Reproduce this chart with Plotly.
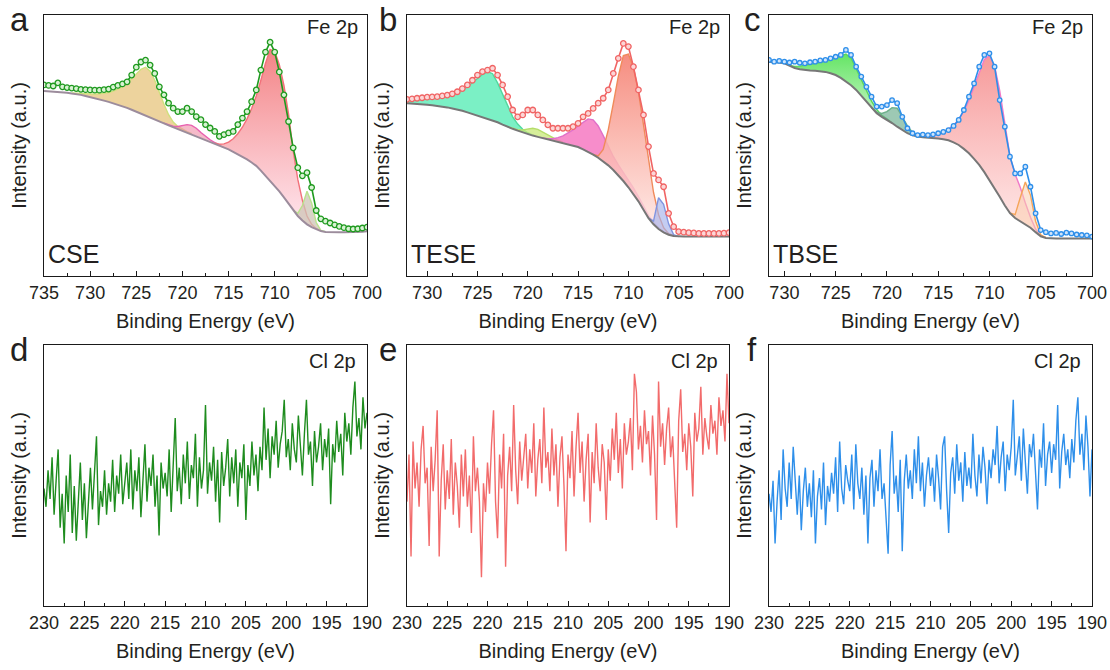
import numpy as np
import plotly.graph_objects as go

W, H = 1110, 670
FONT = "Liberation Sans, Arial, sans-serif"
TXT = "#231f20"

# ---------------- Fe 2p : panel a (CSE), 0.5 eV grid 735 -> 700 ----------------
a_start, a_end = 735.0, 700.0
a_data = [73.2, 73.0, 72.8, 74.0, 72.5, 72.2, 72.0, 71.8, 71.5, 71.4,
          71.3, 71.2, 71.2, 71.4, 71.6, 72.4, 73.0, 73.6, 74.4, 77.0,
          80.0, 82.0, 82.7, 80.8, 77.6, 72.5, 69.4, 66.2, 64.3, 63.0,
          63.0, 64.3, 63.0, 61.1, 59.9, 58.0, 56.7, 55.4, 53.5, 54.2,
          54.8, 55.4, 58.0, 60.5, 63.0, 66.8, 71.3, 78.9, 85.8, 89.6,
          85.8, 78.2, 69.4, 59.2, 49.1, 41.5, 38.4, 39.6, 33.9, 25.1,
          21.9, 21.0, 20.3, 19.6, 19.0, 18.5, 18.1, 18.0, 18.1, 18.4,
          18.7]
a_bg = [70.9, 70.8, 70.7, 70.5, 70.4, 70.2, 69.9, 69.7, 69.4, 69.0,
        68.6, 68.2, 67.7, 67.2, 66.7, 66.2, 65.6, 65.0, 64.4, 63.7,
        63.0, 62.3, 61.5, 60.7, 59.9, 59.2, 58.5, 57.7, 57.0, 56.3,
        55.7, 55.0, 54.4, 53.7, 53.0, 52.3, 51.6, 50.9, 50.1, 49.3,
        48.5, 47.6, 46.7, 45.7, 44.7, 43.5, 42.2, 40.4, 38.4, 36.5,
        34.6, 32.4, 30.1, 27.6, 25.1, 23.0, 21.3, 19.8, 18.7, 17.8,
        17.2, 16.9, 16.8, 16.8, 16.8, 16.8, 16.8, 16.9, 16.9, 17.0,
        17.1]
# fitted components: (start energy, upper envelope values every 0.5 eV)
a_c1 = (732.0, [70.1, 70.0, 69.9, 69.8, 69.7, 69.7, 69.8, 70.0, 70.3, 70.8, 71.5, 72.5, 73.8,
                75.5, 77.3, 79.2, 80.0, 78.5, 75.0, 70.3, 65.8, 61.8, 59.0, 57.3, 56.2, 55.3, 54.5])
a_c2 = (722.0, [58.6, 57.9, 57.4, 57.3, 57.6, 58.0, 57.7, 56.6, 55.0, 53.5, 52.2, 51.1, 50.2, 49.3])
a_c3 = (716.5, [51.0, 50.5, 50.6, 51.3, 52.6, 54.5, 57.0, 60.2, 64.2, 69.0, 75.0, 81.5, 86.8,
                86.0, 81.0, 73.0, 62.0, 48.0, 37.0, 29.0, 23.0, 19.8, 18.2, 17.4])
a_c4 = (708.0, [25.3, 24.0, 27.0, 32.5, 28.0, 20.5, 17.5, 17.0])

# ---------------- Fe 2p : panel b (TESE), 0.5 eV grid 732 -> 700 ----------------
b_start, b_end = 732.0, 700.0
b_data = [67.7, 67.9, 68.1, 68.3, 68.5, 68.6, 68.7, 69.0, 69.3, 69.8,
          70.6, 71.8, 73.2, 75.0, 77.0, 78.3, 78.9, 79.6, 77.0, 73.2,
          68.7, 63.6, 61.0, 61.7, 63.6, 63.6, 61.7, 59.8, 57.9, 56.6,
          56.6, 56.6, 56.6, 57.2, 58.5, 61.0, 62.3, 64.2, 66.2, 68.1,
          71.3, 77.6, 83.4, 89.1, 87.9, 80.2, 71.3, 61.7, 49.6, 39.3,
          36.8, 34.2, 24.0, 18.9, 17.0, 16.8, 16.6, 16.5, 16.3, 16.3,
          16.3, 16.3, 16.3, 16.4, 16.6]
b_bg = [66.2, 66.1, 66.0, 65.8, 65.6, 65.4, 65.2, 64.9, 64.6, 64.2,
        63.8, 63.3, 62.7, 62.1, 61.6, 61.0, 60.3, 59.6, 58.9, 58.0,
        57.1, 56.4, 55.7, 55.0, 54.4, 53.8, 53.3, 52.8, 52.4, 52.0,
        51.6, 51.1, 50.6, 50.0, 49.4, 48.5, 47.6, 46.5, 45.3, 43.9,
        42.4, 40.6, 38.6, 36.4, 34.0, 31.4, 28.6, 25.4, 22.2, 19.8,
        18.0, 16.7, 15.8, 15.3, 15.1, 15.1, 15.1, 15.1, 15.1, 15.1,
        15.1, 15.1, 15.1, 15.1, 15.1]
b_c1 = (732.0, [67.2, 67.3, 67.4, 67.6, 67.8, 68.0, 68.3, 68.6, 69.0, 69.6, 70.3, 71.3, 72.5,
                74.0, 75.6, 77.2, 78.3, 77.5, 74.0, 69.5, 65.0, 61.0, 58.2, 56.2, 54.9, 54.0])
b_c2 = (722.0, [57.2, 56.6, 56.1, 56.0, 56.4, 56.6, 56.2, 55.2, 54.0, 52.9, 52.0, 51.3])
b_c3 = (718.5, [52.9, 52.6, 52.6, 53.0, 53.7, 54.7, 56.0, 57.5, 59.0, 60.2, 59.8, 57.5, 53.8,
                49.6, 45.8, 42.6, 39.8, 37.0, 33.8, 30.4, 26.8, 23.3, 20.6, 18.6, 17.1, 16.1, 15.4])
b_c4 = (713.5, [46.6, 46.0, 48.5, 56.0, 66.0, 76.5, 84.5, 85.0, 80.0, 70.5, 58.0, 44.5, 32.0,
                23.5, 18.5, 16.2, 15.4])
b_c5 = (708.0, [22.3, 21.0, 30.0, 27.5, 20.0, 15.8, 15.1])

# ---------------- Fe 2p : panel c (TBSE), 0.5 eV grid 731.5 -> 700 ----------------
c_start, c_end = 731.5, 700.0
c_data = [82.8, 82.1, 82.4, 82.1, 81.8, 82.1, 81.7, 81.5, 81.9, 82.1,
          82.6, 82.8, 83.4, 84.0, 84.7, 86.6, 84.7, 80.2, 76.4, 72.5,
          68.7, 64.9, 64.9, 65.5, 67.4, 66.2, 61.0, 56.6, 54.7, 54.0,
          54.2, 54.0, 54.3, 54.7, 55.2, 55.9, 57.5, 59.8, 63.6, 68.7,
          73.8, 80.2, 84.7, 85.3, 80.2, 67.4, 57.2, 45.7, 39.3, 39.3,
          41.9, 34.2, 24.0, 17.6, 16.8, 16.3, 16.5, 16.1, 16.6, 16.3,
          15.9, 15.7, 15.6, 15.1]
c_bg = [82.1, 82.0, 81.8, 81.5, 80.6, 79.7, 79.2, 78.9, 78.7, 78.6,
        78.4, 78.2, 77.7, 77.0, 75.9, 74.6, 73.1, 71.3, 69.1, 66.8,
        64.4, 62.4, 61.0, 59.9, 58.6, 57.2, 55.9, 54.7, 53.9, 53.4,
        53.2, 53.1, 52.9, 52.7, 52.4, 52.0, 51.2, 50.2, 48.7, 47.0,
        44.9, 42.6, 39.8, 36.8, 33.6, 30.4, 27.0, 24.1, 22.2, 20.9,
        19.8, 18.5, 16.8, 15.2, 14.6, 14.4, 14.4, 14.4, 14.4, 14.4,
        14.4, 14.4, 14.4, 14.4]
c_c1 = (729.5, [80.7, 80.3, 80.4, 80.7, 81.0, 81.4, 81.9, 82.4, 83.0, 83.7, 84.5, 85.0, 83.5,
                79.5, 75.0, 71.0, 67.0, 63.8, 61.6, 60.2, 58.7])
c_c2 = (721.5, [64.5, 62.8, 62.3, 63.0, 64.5, 64.3, 61.0, 57.5, 55.0, 53.8, 53.3])
c_c3 = (716.5, [53.3, 53.4, 53.8, 54.4, 55.2, 56.3, 57.8, 60.0, 63.2, 67.3, 72.5, 78.2, 83.0,
                84.5, 80.5, 71.0, 58.5, 46.0, 39.0, 34.0, 28.0, 22.5, 18.0, 15.5, 14.7])
c_c4 = (708.0, [24.2, 23.5, 30.0, 36.0, 31.0, 21.0, 15.8, 14.7])

# ---------------- Cl 2p : panels d, e, f, 0.25 eV grid 230 -> 190 ----------------
cl_start, cl_end = 230.0, 190.0
d_data = [45, 38, 52, 41, 57, 35, 48, 60, 30, 43,
          24, 50, 36, 58, 28, 46, 25, 39, 55, 33,
          47, 26, 42, 53, 37, 49, 65, 31, 44, 38,
          52, 35, 47, 40, 56, 36, 50, 43, 58, 39,
          48, 55, 41, 60, 37, 52, 44, 57, 34, 49,
          62, 40, 53, 46, 58, 38, 50, 27, 55, 45,
          51, 42, 60, 36, 56, 72, 44, 53, 39, 58,
          47, 63, 41, 54, 49, 66, 38, 57, 45, 52,
          77, 43, 55, 48, 61, 40, 56, 32, 59, 46,
          53, 64, 42, 57, 47, 60, 38, 55, 49, 62,
          33, 54, 46, 63, 50, 58, 44, 61, 52, 76,
          56, 68, 49, 65, 58, 71, 53, 62, 67, 79,
          57, 64, 52, 70, 60, 55, 73, 62, 50, 66,
          79, 58, 63, 46, 67, 55, 61, 70, 52, 64,
          57, 68, 39, 62, 55, 71, 59, 66, 50, 74,
          63, 70, 58, 76, 86, 65, 72, 60, 80, 68,
          74]
e_data = [40, 58, 19, 63, 45, 55, 38, 60, 69, 47,
          53, 23, 61, 44, 56, 75, 19, 48, 62, 37,
          52, 41, 64, 35, 55, 46, 30, 58, 42, 60,
          38, 50, 28, 65, 44, 53, 40, 11, 47, 36,
          55, 43, 62, 75, 40, 26, 58, 45, 66, 15,
          50, 61, 44, 77, 52, 39, 63, 48, 57, 66,
          45, 60, 51, 70, 42, 56, 64, 47, 76, 53,
          59, 44, 68, 50, 62, 38, 57, 65, 46, 21,
          58, 49, 67, 42, 61, 74, 51, 63, 40, 56,
          66, 32, 59, 47, 70, 53, 44, 62, 55, 33,
          60, 48, 68, 56, 74, 51, 64, 45, 70, 58,
          63, 72, 52, 89, 82, 60, 69, 55, 75, 62,
          67, 50, 73, 58, 33, 86, 61, 70, 54, 68,
          76, 57, 65, 49, 30, 71, 83, 59, 66, 52,
          70, 61, 42, 74, 63, 68, 84, 58, 72, 65,
          60, 77, 66, 71, 58, 80, 69, 75, 63, 89,
          70]
f_data = [43, 36, 48, 24, 40, 52, 33, 60, 45, 38,
          55, 41, 61, 46, 35, 50, 29, 44, 53, 38,
          47, 34, 52, 24, 42, 49, 37, 55, 31, 46,
          40, 51, 43, 57, 36, 63, 45, 39, 54, 48,
          44, 58, 37, 62, 47, 41, 53, 35, 50, 24,
          49, 56, 38, 52, 44, 60, 41, 47, 32, 20,
          54, 67, 43, 50, 36, 56, 21, 48, 58, 45,
          52, 41, 60, 47, 65, 44, 55, 38, 50, 57,
          46, 53, 40, 58, 49, 37, 61, 65, 44, 28,
          51, 57, 43, 62, 48, 55, 40, 59, 46, 53,
          45, 66, 50, 42, 58, 47, 61, 53, 39, 56,
          49, 60, 54, 69, 47, 57, 63, 44, 58, 52,
          61, 79, 50, 57, 65, 48, 68, 55, 43, 62,
          57, 66, 49, 37, 60, 53, 70, 46, 58, 63,
          51, 62, 56, 77, 45, 59, 66, 54, 60, 49,
          64, 55, 71, 80, 58, 66, 52, 73, 61, 42,
          60]

panel_letters = ["a", "b", "c", "d", "e", "f"]
samples = ["CSE", "TESE", "TBSE"]
x_title = "Binding Energy (eV)"
y_title = "Intensity (a.u.)"


def grid(start, end, step):
    n = int(round((start - end) / step)) + 1
    return np.round(np.linspace(start, end, n), 2)


fig = go.Figure()


def add_panel_fe(k, start, end, data, bg, comps, dcolor, mfill, bgcolor, msize):
    xa, ya = f"x{k}", f"y{k}"
    g = grid(start, end, 0.5)
    assert len(g) == len(data) == len(bg), (k, len(g), len(data), len(bg))
    bgmap = dict(zip(g.tolist(), bg))
    for (cstart, vals), style in comps:
        cx = grid(cstart, cstart - 0.5 * (len(vals) - 1), 0.5).tolist()
        base = [bgmap[x] for x in cx]
        px = cx + cx[::-1]
        py = list(vals) + base[::-1]
        tr = dict(x=px, y=py, mode="lines", line=dict(width=0), fill="toself",
                  xaxis=xa, yaxis=ya, hoverinfo="skip", showlegend=False)
        if "grad" in style:
            tr["fillgradient"] = dict(type="vertical", colorscale=[[0, style["grad"][0]], [1, style["grad"][1]]])
        else:
            tr["fillcolor"] = style["fill"]
        fig.add_trace(go.Scatter(**tr))
        fig.add_trace(go.Scatter(x=cx, y=vals, mode="lines", line=dict(color=style["line"], width=1.4),
                                 xaxis=xa, yaxis=ya, showlegend=False))
    fig.add_trace(go.Scatter(x=g, y=bg, mode="lines", line=dict(color=bgcolor, width=2),
                             xaxis=xa, yaxis=ya, showlegend=False))
    fig.add_trace(go.Scatter(x=g, y=data, mode="lines+markers",
                             line=dict(color=dcolor, width=1.6),
                             marker=dict(symbol="circle", size=msize, color=mfill,
                                         line=dict(color=dcolor, width=1.3)),
                             xaxis=xa, yaxis=ya, showlegend=False))


add_panel_fe(1, a_start, a_end, a_data, a_bg, [
    (a_c1, dict(fill="rgba(232,198,130,0.78)", line="#CFE07C")),
    (a_c2, dict(fill="rgba(238,140,165,0.6)", line="#E860B0")),
    (a_c3, dict(grad=("rgba(255,228,238,0.85)", "rgba(242,118,120,0.9)"), line="#F2707A")),
    (a_c4, dict(fill="rgba(205,196,182,0.75)", line="#B9E28C")),
], "#1F9A1F", "#D9F2D4", "#9C8C9C", 5.5)

add_panel_fe(2, b_start, b_end, b_data, b_bg, [
    (b_c1, dict(fill="rgba(90,236,182,0.8)", line="#52D89E")),
    (b_c2, dict(fill="rgba(200,232,120,0.75)", line="#B5DD6A")),
    (b_c3, dict(fill="rgba(245,112,190,0.8)", line="#E070C8")),
    (b_c4, dict(grad=("rgba(255,232,228,0.8)", "rgba(245,125,110,0.88)"), line="#F08A5A")),
    (b_c5, dict(fill="rgba(165,178,235,0.65)", line="#8094E0")),
], "#F06464", "#FCD6D6", "#777777", 5.5)

add_panel_fe(3, c_start, c_end, c_data, c_bg, [
    (c_c1, dict(grad=("rgba(175,242,175,0.7)", "rgba(80,225,80,0.88)"), line="#5AD65A")),
    (c_c2, dict(fill="rgba(105,172,140,0.65)", line="#6DB08A")),
    (c_c3, dict(grad=("rgba(255,230,230,0.8)", "rgba(245,140,140,0.88)"), line="#F07AC8")),
    (c_c4, dict(fill="rgba(250,205,175,0.55)", line="#F5A55A")),
], "#2E8FEA", "#CFE4FB", "#777777", 4.5)

g_cl = grid(cl_start, cl_end, 0.25)
for k, series, col in [(4, d_data, "#1E8C1E"), (5, e_data, "#F26B6B"), (6, f_data, "#2E8FEA")]:
    assert len(series) == len(g_cl), (k, len(series))
    fig.add_trace(go.Scatter(x=g_cl, y=series, mode="lines", line=dict(color=col, width=1.4),
                             xaxis=f"x{k}", yaxis=f"y{k}", showlegend=False))

# ---------------- layout ----------------
def px_x(p):
    return p / W


def px_y(p):
    return 1 - p / H


col_px = [(44, 367), (407, 729), (769, 1092)]
row_px = [(15, 276), (345, 606)]
xranges = [[735, 700], [732, 700], [731.5, 700], [230, 190], [230, 190], [230, 190]]

layout = dict(width=W, height=H, autosize=False, margin=dict(l=0, r=0, t=0, b=0),
              paper_bgcolor="white", plot_bgcolor="white",
              font=dict(family=FONT, color=TXT), showlegend=False)
for i in range(6):
    k = i + 1
    r, c = divmod(i, 3)
    xd = [px_x(col_px[c][0]), px_x(col_px[c][1])]
    yd = [px_y(row_px[r][1]), px_y(row_px[r][0])]
    sfx = "" if k == 1 else str(k)
    layout["xaxis" + sfx] = dict(
        domain=xd, range=xranges[i], anchor=f"y{k}", automargin=False,
        showline=True, linecolor="#1a1a1a",
        linewidth=1.4, mirror=True, ticks="inside", ticklen=5, tickwidth=1.3, tickcolor="#1a1a1a",
        tick0=700 if r == 0 else 190, dtick=5,
        minor=dict(ticks="inside", ticklen=3, tickwidth=1.1, tickcolor="#1a1a1a", dtick=2.5),
        showgrid=False, zeroline=False, tickfont=dict(size=18, color=TXT, family=FONT),
        title=dict(text=x_title, font=dict(size=20, color=TXT, family=FONT), standoff=12))
    layout["yaxis" + sfx] = dict(
        domain=yd, range=[0, 100], anchor=f"x{k}", automargin=False,
        showline=True, linecolor="#1a1a1a",
        linewidth=1.4, mirror=True, ticks="", showticklabels=False, showgrid=False, zeroline=False,
        title=dict(text=y_title, font=dict(size=20, color=TXT, family=FONT), standoff=10))

ann = []
letter_pos = [(8, 20), (377, 20), (742, 20), (8, 350), (377, 350), (745, 350)]
for i, (lx, ly) in enumerate(letter_pos):
    ann.append(dict(text=panel_letters[i], x=px_x(lx), y=px_y(ly), xref="paper", yref="paper",
                    xanchor="left", yanchor="middle", showarrow=False,
                    font=dict(size=33, color=TXT, family=FONT)))
for c in range(3):
    right = col_px[c][1] - 7
    ann.append(dict(text="Fe 2p", x=px_x(right), y=px_y(27), xref="paper", yref="paper",
                    xanchor="right", yanchor="middle", showarrow=False,
                    font=dict(size=20, color=TXT, family=FONT)))
    ann.append(dict(text="Cl 2p", x=px_x(right - 2), y=px_y(361), xref="paper", yref="paper",
                    xanchor="right", yanchor="middle", showarrow=False,
                    font=dict(size=20, color=TXT, family=FONT)))
    ann.append(dict(text=samples[c], x=px_x(col_px[c][0] + 2), y=px_y(254), xref="paper", yref="paper",
                    xanchor="left", yanchor="middle", showarrow=False,
                    font=dict(size=25, color=TXT, family=FONT)))
layout["annotations"] = ann

fig.update_layout(**layout)
fig.write_html("out.html")
